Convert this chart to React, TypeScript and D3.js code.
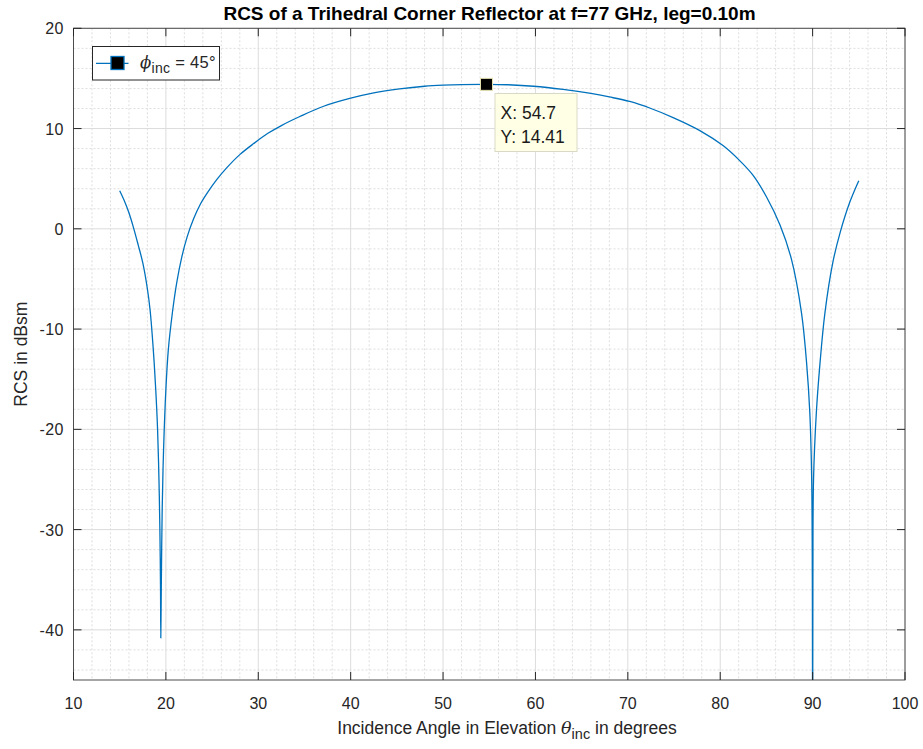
import React from "react";
import * as d3 from "d3";

const thetaDeg = [15.0, 15.5, 16.0, 16.5, 17.0, 17.5, 18.0, 18.3, 18.64, 18.9, 19.1, 19.25, 19.35, 19.42, 19.45, 19.5, 19.6, 19.75, 20.0, 20.26, 20.7, 21.17, 21.7, 22.3, 23.0, 23.7, 24.5, 25.5, 26.6, 28.0, 29.5, 31.0, 32.5, 34.5, 37.0, 39.9, 42.5, 45.3, 48.0, 50.0, 52.0, 54.7, 57.0, 59.8, 63.0, 66.0, 68.0, 70.2, 72.5, 74.9, 77.8, 80.3, 82.0, 83.5, 85.0, 86.46, 87.7, 88.8, 89.35, 89.7, 89.9, 89.97, 90.0, 90.03, 90.1, 90.4, 90.8, 91.33, 92.2, 93.0, 94.0, 94.9, 95.0];
const rcsDbsm = [3.8, 2.8, 1.6, 0.1, -1.6, -3.4, -6.0, -8.2, -12.1, -16.0, -20.0, -25.0, -30.0, -36.0, -40.8, -36.0, -28.0, -22.0, -16.0, -12.1, -8.4, -5.4, -2.9, -0.8, 1.0, 2.4, 3.6, 4.9, 6.1, 7.4, 8.5, 9.5, 10.3, 11.2, 12.2, 13.0, 13.55, 13.95, 14.22, 14.33, 14.39, 14.41, 14.37, 14.22, 13.9, 13.5, 13.15, 12.7, 12.0, 11.1, 9.8, 8.3, 6.9, 5.4, 3.2, 0.4, -3.0, -8.4, -13.4, -18.4, -25.0, -35.0, -60.0, -35.0, -25.0, -18.4, -13.4, -8.4, -3.3, -0.3, 2.6, 4.6, 4.8];

const xTicks = [10, 20, 30, 40, 50, 60, 70, 80, 90, 100];
const yTicks = [20, 10, 0, -10, -20, -30, -40];
const tipX = 54.7;
const tipY = 14.41;
const titleText = "RCS of a Trihedral Corner Reflector at f=77 GHz, leg=0.10m";

const W = 923, H = 749;
const L = 73.5, R = 905, T = 28.3, B = 680;
const font = "'Liberation Sans', Arial, Helvetica, sans-serif";
const txt = "#262626";

export default function App() {
  const x = d3.scaleLinear().domain([10, 100]).range([L, R]);
  const y = d3.scaleLinear().domain([-45, 20]).range([B, T]);
  const xMinor = d3.range(10, 100.01, 2).filter((v) => v % 10 !== 0);
  const yMinor = d3.range(-44, 20.01, 2).filter((v) => v % 10 !== 0);
  const pts = thetaDeg.map((t, i) => [t, rcsDbsm[i]] as [number, number]);
  const line = d3
    .line<[number, number]>()
    .x((d) => x(d[0]))
    .y((d) => y(d[1]))
    .curve(d3.curveCatmullRom.alpha(0.5));
  const tx = x(tipX), ty = y(tipY);
  return (
    <svg width={W} height={H} style={{ position: "fixed", left: 0, top: 0, background: "#fff" }} fontFamily={font}>
      <defs>
        <clipPath id="plotclip">
          <rect x={L} y={T} width={R - L} height={B - T} />
        </clipPath>
      </defs>
      <rect x={0} y={0} width={W} height={H} fill="#fff" />
      {/* minor grid */}
      {xMinor.map((v) => (
        <line key={"xm" + v} x1={x(v)} x2={x(v)} y1={T} y2={B} stroke="#dedede" strokeWidth={1} strokeDasharray="2,2" />
      ))}
      {yMinor.map((v) => (
        <line key={"ym" + v} x1={L} x2={R} y1={y(v)} y2={y(v)} stroke="#dedede" strokeWidth={1} strokeDasharray="2,2" />
      ))}
      {/* major grid */}
      {xTicks.map((v) => (
        <line key={"xg" + v} x1={x(v)} x2={x(v)} y1={T} y2={B} stroke="#dcdcdc" strokeWidth={1} />
      ))}
      {yTicks.map((v) => (
        <line key={"yg" + v} x1={L} x2={R} y1={y(v)} y2={y(v)} stroke="#dcdcdc" strokeWidth={1} />
      ))}
      {/* data line */}
      <path d={line(pts) || ""} fill="none" stroke="#0072BD" strokeWidth={1.3} clipPath="url(#plotclip)" />
      {/* axes box */}
      <rect x={L} y={T} width={R - L} height={B - T} fill="none" stroke="#4d4d4d" strokeWidth={1} />
      {xTicks.map((v) => (
        <g key={"xt" + v}>
          <line x1={x(v)} x2={x(v)} y1={B} y2={B - 8} stroke="#262626" />
          <line x1={x(v)} x2={x(v)} y1={T} y2={T + 8} stroke="#262626" />
          <text x={x(v)} y={709} textAnchor="middle" fontSize={16} fill={txt}>{v}</text>
        </g>
      ))}
      {yTicks.map((v) => (
        <g key={"yt" + v}>
          <line x1={L} x2={L + 8} y1={y(v)} y2={y(v)} stroke="#262626" />
          <line x1={R} x2={R - 8} y1={y(v)} y2={y(v)} stroke="#262626" />
          <text x={64} y={y(v) + 6} textAnchor="end" fontSize={16} fill={txt} letterSpacing={0.5}>{v}</text>
        </g>
      ))}
      {/* title */}
      <text x={(213 + 766) / 2} y={19.5} textAnchor="middle" fontSize={19} fontWeight="bold" fill="#000">{titleText}</text>
      {/* axis labels */}
      <text x={507} y={734} textAnchor="middle" fontSize={17.5} fill={txt}>
        Incidence Angle in Elevation <tspan fontFamily="'DejaVu Serif', serif" fontStyle="italic">θ</tspan>
        <tspan dy={5} fontSize={14.5}>inc</tspan>
        <tspan dy={-5}> in degrees</tspan>
      </text>
      <text transform={`translate(27,${(T + B) / 2}) rotate(-90)`} textAnchor="middle" fontSize={17.5} fill={txt}>RCS in dBsm</text>
      {/* legend */}
      <rect x={92.5} y={46.5} width={127} height={33.5} fill="#fff" stroke="#262626" strokeWidth={1} />
      <line x1={96} x2={128.5} y1={63.3} y2={63.3} stroke="#0072BD" strokeWidth={1.3} />
      <rect x={111} y={56.5} width={13} height={13} fill="#000" stroke="#0072BD" strokeWidth={1.3} />
      <text x={140} y={68} fontSize={16.5} fill={txt} letterSpacing={0.3}>
        <tspan fontFamily="'DejaVu Serif', serif" fontStyle="italic">ϕ</tspan>
        <tspan dy={5} fontSize={14}>inc</tspan>
        <tspan dy={-5}> = 45°</tspan>
      </text>
      {/* data tip */}
      <rect x={tx - 6} y={ty - 6} width={12} height={12} fill="#000" stroke="#e8e3b0" strokeWidth={1} />
      <rect x={495} y={93.5} width={82} height={58} fill="#ffffe6" stroke="#d9d9c8" strokeWidth={1} />
      <text x={500.5} y={119} fontSize={17.5} fill="#1a1a1a">X: {tipX}</text>
      <text x={500.5} y={142.5} fontSize={17.5} fill="#1a1a1a">Y: {tipY}</text>
    </svg>
  );
}
